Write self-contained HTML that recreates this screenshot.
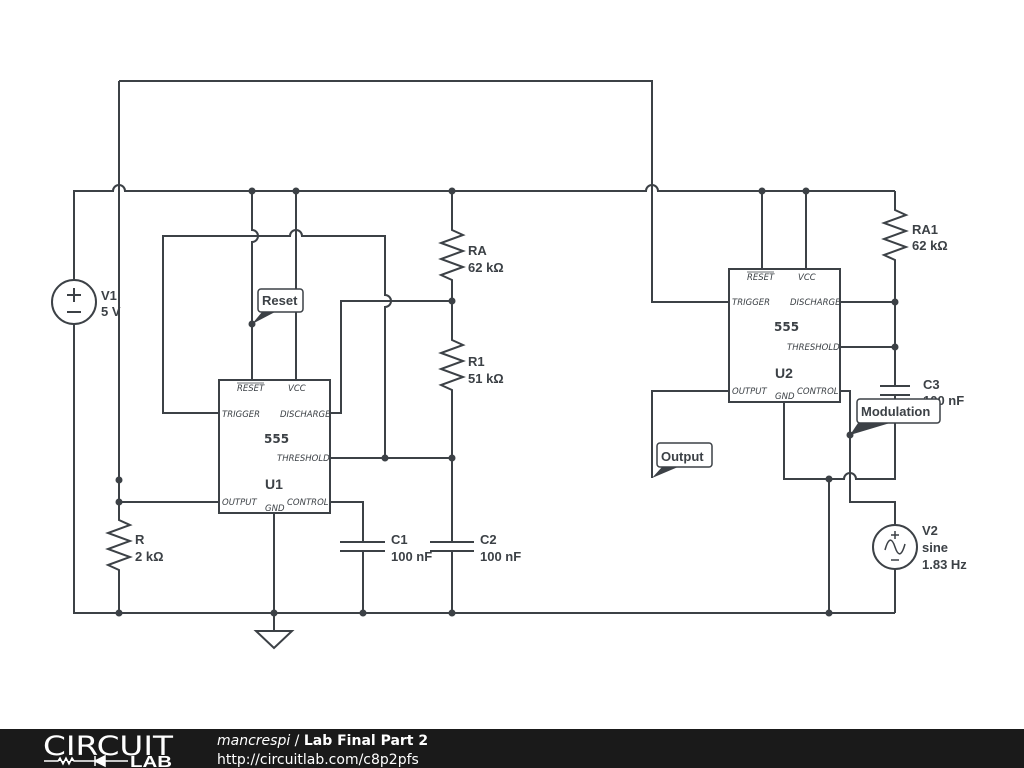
<!DOCTYPE html>
<html><head><meta charset="utf-8"><style>
html,body{margin:0;padding:0;background:#fff;width:1024px;height:768px;overflow:hidden}
svg{display:block}
.w{stroke:#3c4146;stroke-width:2;fill:none}
.d{fill:#3c4146}
.lbl{font-family:"Liberation Sans",sans-serif;font-weight:bold;font-size:13px;fill:#3c4146}
.pin{font-family:"DejaVu Sans",sans-serif;font-style:italic;font-size:8.5px;fill:#3c4146}
.big{font-family:"Liberation Sans",sans-serif;font-weight:bold;font-size:13px;fill:#3c4146}
</style></head><body>
<svg width="1024" height="768" viewBox="0 0 1024 768">
<g class="w">
<path d="M119 81 H652 V302 H729"/>
<path d="M119 81 V520 l11 5 l-22 8 l22 8 l-22 8 l22 8 l-22 8 l11 5 V613"/>
<path d="M74 280 V191 H113 A6 6 0 0 1 125 191 H646 A6 6 0 0 1 658 191 H895"/>
<path d="M74 324 V613 H895"/>
<rect x="219" y="380" width="111" height="133"/>
<path d="M252 191 V230 A6 6 0 0 1 252 242 V380"/>
<path d="M296 191 V380"/>
<path d="M219 413 H163 V236 H290 A6 6 0 0 1 302 236 H385 V295 A6 6 0 0 1 385 307 V458"/>
<path d="M330 413 H341 V301 H452"/>
<path d="M330 458 H452"/>
<path d="M219 502 H119"/>
<path d="M330 502 H363 V542 M340 542 H385 M340 551 H385 M363 551 V613"/>
<path d="M274 513 V631 M256 631 H292 L274 648 Z"/>
<path d="M452 191 V230 l11 5 l-22 8 l22 8 l-22 8 l22 8 l-22 8 l11 5 V340 l11 5 l-22 8 l22 8 l-22 8 l22 8 l-22 8 l11 5 V542 M430 542 H474 M430 551 H474 M452 551 V613"/>
<circle cx="74" cy="302" r="22"/>
<path d="M67 295 H81 M74 288 V302 M67 312 H81"/>
<rect x="729" y="269" width="111" height="133"/>
<path d="M762 191 V269 M806 191 V269"/>
<path d="M840 302 H895 M840 347 H895"/>
<path d="M895 191 V210 l11 5 l-22 8 l22 8 l-22 8 l22 8 l-22 8 l11 5 V386 M880 386 H910 M880 395 H910 M895 395 V479 H856 A6 6 0 0 0 844 479 H784 V402"/>
<path d="M829 479 V613"/>
<path d="M729 391 H652 V478"/>
<path d="M840 391 H850 V502 H895 V525 M895 569 V613"/>
<circle cx="895" cy="547" r="22"/>
<path d="M891 535 h8 M895 531 v8 M891 560 h8 M885 550 q5 -18 10 -3 q5 15 10 -3" stroke-width="1.5"/>
</g>
<g class="d">
<circle cx="252" cy="191" r="3.5"/><circle cx="296" cy="191" r="3.5"/><circle cx="452" cy="191" r="3.5"/>
<circle cx="762" cy="191" r="3.5"/><circle cx="806" cy="191" r="3.5"/>
<circle cx="452" cy="301" r="3.5"/><circle cx="385" cy="458" r="3.5"/><circle cx="452" cy="458" r="3.5"/>
<circle cx="119" cy="480" r="3.5"/><circle cx="119" cy="502" r="3.5"/>
<circle cx="119" cy="613" r="3.5"/><circle cx="274" cy="613" r="3.5"/><circle cx="363" cy="613" r="3.5"/><circle cx="452" cy="613" r="3.5"/><circle cx="829" cy="613" r="3.5"/>
<circle cx="895" cy="302" r="3.5"/><circle cx="895" cy="347" r="3.5"/><circle cx="829" cy="479" r="3.5"/>
<circle cx="252" cy="324" r="3.5"/><circle cx="850" cy="435" r="3.5"/>
</g>
<text class="pin" x="237" y="391">RESET</text><line x1="237" y1="383" x2="264" y2="383" stroke="#3c4146" stroke-width="0.8"/>
<text class="pin" x="288" y="391">VCC</text>
<text class="pin" x="222" y="417">TRIGGER</text>
<text class="pin" x="280" y="417">DISCHARGE</text>
<text x="264" y="443" font-family="DejaVu Sans,sans-serif" font-size="12" font-weight="bold" fill="#3c4146">555</text>
<text class="pin" x="277" y="461">THRESHOLD</text>
<text class="big" x="265" y="489" style="font-size:14px">U1</text>
<text class="pin" x="222" y="505">OUTPUT</text>
<text class="pin" x="265" y="511">GND</text>
<text class="pin" x="287" y="505">CONTROL</text>
<text class="pin" x="747" y="280">RESET</text><line x1="747" y1="272" x2="774" y2="272" stroke="#3c4146" stroke-width="0.8"/>
<text class="pin" x="798" y="280">VCC</text>
<text class="pin" x="732" y="305">TRIGGER</text>
<text class="pin" x="790" y="305">DISCHARGE</text>
<text x="774" y="331" font-family="DejaVu Sans,sans-serif" font-size="12" font-weight="bold" fill="#3c4146">555</text>
<text class="pin" x="787" y="350">THRESHOLD</text>
<text class="big" x="775" y="378" style="font-size:14px">U2</text>
<text class="pin" x="732" y="394">OUTPUT</text>
<text class="pin" x="775" y="399">GND</text>
<text class="pin" x="797" y="394">CONTROL</text>
<text class="lbl" x="101" y="300">V1</text><text class="lbl" x="101" y="316">5 V</text>
<text class="lbl" x="468" y="255">RA</text><text class="lbl" x="468" y="272">62 kΩ</text>
<text class="lbl" x="468" y="366">R1</text><text class="lbl" x="468" y="383">51 kΩ</text>
<text class="lbl" x="135" y="544">R</text><text class="lbl" x="135" y="561">2 kΩ</text>
<text class="lbl" x="391" y="544">C1</text><text class="lbl" x="391" y="561">100 nF</text>
<text class="lbl" x="480" y="544">C2</text><text class="lbl" x="480" y="561">100 nF</text>
<text class="lbl" x="912" y="234">RA1</text><text class="lbl" x="912" y="250">62 kΩ</text>
<text class="lbl" x="923" y="389">C3</text><text class="lbl" x="923" y="405">100 nF</text>
<text class="lbl" x="922" y="535">V2</text><text class="lbl" x="922" y="552">sine</text><text class="lbl" x="922" y="569">1.83 Hz</text>
<path d="M252 324 L262 312 L275 312 Z" fill="#3c4146"/>
<rect x="258" y="289" width="45" height="23" rx="3" fill="#fff" stroke="#3c4146" stroke-width="1.5"/>
<text class="lbl" x="262" y="305">Reset</text>
<path d="M652 478 L662 467 L678 467 Z" fill="#3c4146"/>
<rect x="657" y="443" width="55" height="24" rx="3" fill="#fff" stroke="#3c4146" stroke-width="1.5"/>
<text class="lbl" x="661" y="461">Output</text>
<path d="M850 435 L858 423 L890 423 Z" fill="#3c4146"/>
<rect x="857" y="399" width="83" height="24" rx="3" fill="#fff" stroke="#3c4146" stroke-width="1.5"/>
<text class="lbl" x="861" y="416">Modulation</text>
<rect x="0" y="729" width="1024" height="39" fill="#1a1a1a"/>
<text x="43" y="755" font-family="DejaVu Sans,sans-serif" font-size="27" font-weight="normal" fill="#fff" textLength="130" lengthAdjust="spacingAndGlyphs">CIRCUIT</text>
<path d="M44 761 H58 l2 -3 l3 6 l3 -6 l3 6 l3 -6 l2 3 H95 M95 756 V766 M95 761 L105 756 V766 Z M105 756 V766 M105 761 H128" stroke="#fff" stroke-width="1.5" fill="#fff"/>
<text x="130" y="767" font-family="Liberation Sans,sans-serif" font-weight="bold" font-size="16" fill="#fff" textLength="42" lengthAdjust="spacingAndGlyphs">LAB</text>
<text x="217" y="745" font-family="DejaVu Sans,sans-serif" font-size="14" fill="#fff"><tspan font-style="italic">mancrespi</tspan> / <tspan font-weight="bold">Lab Final Part 2</tspan></text>
<text x="217" y="764" font-family="DejaVu Sans,sans-serif" font-size="14" fill="#fff">http://circuitlab.com/c8p2pfs</text>
</svg>
</body></html>
